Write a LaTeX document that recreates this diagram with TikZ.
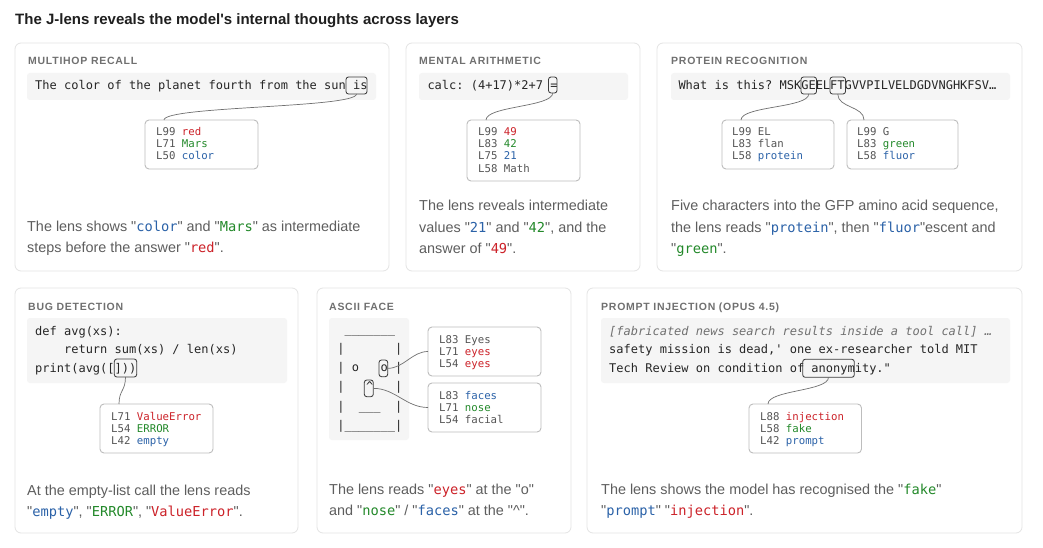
\documentclass[tikz,border=0pt]{standalone}
\usepackage{fontspec}
\usepackage{xcolor}
\newfontfamily\uifont{Liberation Sans}
\newfontfamily\ptfont[LetterSpace=7]{Liberation Sans}
\newfontfamily\codefont[WordSpace={1,0,0}]{DejaVu Sans Mono}
\frenchspacing
\definecolor{panelborder}{HTML}{E4E4E4}
\definecolor{codebgc}{HTML}{F5F5F5}
\definecolor{hlc}{HTML}{3C3C3C}
\definecolor{lboxc}{HTML}{BDBDBD}
\definecolor{connc}{HTML}{707070}
\definecolor{titlec}{HTML}{1F1F1F}
\definecolor{ptc}{HTML}{707070}
\definecolor{descc}{HTML}{5E5E5E}
\definecolor{codec}{HTML}{262626}
\definecolor{lgray}{HTML}{555555}
\definecolor{cred}{HTML}{CC2229}
\definecolor{cgreen}{HTML}{23892A}
\definecolor{cblue}{HTML}{2B62A8}
\definecolor{ccomment}{HTML}{707070}
\newcommand{\qword}[2]{"{\color{#1}\fontsize{13.7}{21}\selectfont\codefont #2}"}
\newcommand{\mkbox}[6]{\pgfmathsetmacro{\mkbw}{#5-#3}\pgfmathsetmacro{\mkbh}{#6-#4}%
  \node[#1, anchor=north west, minimum width=\mkbw pt, minimum height=\mkbh pt, inner sep=0pt, outer sep=0pt] (#2) at (#3,#4) {};}
\tikzset{
  panelbox/.style={draw=panelborder, fill=white, rounded corners=6pt, line width=0.8pt},
  codebg/.style={fill=codebgc, rounded corners=3pt},
  hlbox/.style={draw=hlc, rounded corners=2.5pt, line width=0.85pt},
  lbox/.style={draw=lboxc, fill=white, rounded corners=4pt, line width=0.9pt},
  conn/.style={draw=connc, line width=0.7pt},
  ttl/.style={anchor=base west, inner sep=0pt, text=titlec, font=\fontsize{15}{18}\selectfont\uifont\bfseries},
  ptitle/.style={anchor=base west, inner sep=0pt, text=ptc, font=\fontsize{10.5}{12}\selectfont\ptfont\bfseries},
  desc/.style={anchor=base west, inner sep=0pt, text=descc, font=\fontsize{14.4}{21}\selectfont\uifont},
  codetxt/.style={anchor=base west, inner sep=0pt, text=codec, font=\fontsize{12}{18}\selectfont\codefont},
  ltxt/.style={anchor=base west, inner sep=0pt, text=lgray, font=\fontsize{10.7}{12}\selectfont\codefont},
}
\begin{document}
\begin{tikzpicture}[x=1pt,y=-1pt]
\path[use as bounding box, fill=white] (0,0) rectangle (1043,548);

\node[ttl] (title) at (15,25) {The J-lens reveals the model's internal thoughts across layers};

% panels
\mkbox{panelbox}{p1}{15}{43}{389}{271}
\mkbox{panelbox}{p2}{406}{43}{640}{271}
\mkbox{panelbox}{p3}{657}{43}{1022}{271}
\mkbox{panelbox}{p4}{15}{288}{298}{533}
\mkbox{panelbox}{p5}{317}{288}{571}{533}
\mkbox{panelbox}{p6}{587}{288}{1022}{533}

% panel titles
\node[ptitle] (t1) at (28,65) {MULTIHOP RECALL};
\node[ptitle] (t2) at (419,65) {MENTAL ARITHMETIC};
\node[ptitle] (t3) at (671,65) {PROTEIN RECOGNITION};
\node[ptitle] (t4) at (28,310) {BUG DETECTION};
\node[ptitle] (t5) at (329,310) {ASCII FACE};
\node[ptitle] (t6) at (601,310) {PROMPT INJECTION (OPUS 4.5)};

% code backgrounds
\mkbox{codebg}{c1}{27}{73}{376}{100}
\mkbox{codebg}{c2}{419}{73}{628}{100}
\mkbox{codebg}{c3}{671}{73}{1010}{100}
\mkbox{codebg}{c4}{27}{318}{287}{383}
\mkbox{codebg}{c5}{329}{318}{409}{440}
\mkbox{codebg}{c6}{601}{318}{1010}{383}

% code text
\node[codetxt] (c1t) at (35,90) {The color of the planet fourth from the sun is};
\node[codetxt] (c2t) at (427.3,90) {calc: (4+17)*2+7 =};
\node[codetxt] (c3t) at (678.3,90) {What is this? MSKGEELFTGVVPILVELDGDVNGHKFSV…};
\node[codetxt] (c4a) at (35,335) {def avg(xs):};
\node[codetxt] (c4b) at (35,353.5) {\ \ \ \ return sum(xs) / len(xs)};
\node[codetxt] (c4c) at (35,372) {print(avg([]))};
\node[codetxt] (f1) at (337.1,333) {\ \_\_\_\_\_\_\_};
\node[codetxt] (f2) at (337.1,352.3) {|\ \ \ \ \ \ \ |};
\node[codetxt] (f3) at (337.1,371.6) {|\ o\ \ \ o\ |};
\node[codetxt] (f4) at (337.1,390.9) {|\ \ \ \textasciicircum\ \ \ |};
\node[codetxt] (f5) at (337.1,410.2) {|\ \ \_\_\_\ \ |};
\node[codetxt] (f6) at (337.1,429.5) {|\_\_\_\_\_\_\_|};
\node[codetxt, text=ccomment] (c6a) at (609,335) {\itshape [fabricated news search results inside a tool call] …};
\node[codetxt] (c6b) at (609,353.5) {safety mission is dead,' one ex-researcher told MIT};
\node[codetxt] (c6c) at (609,372) {Tech Review on condition of anonymity."};

% highlight boxes
\mkbox{hlbox}{h1}{346}{77}{367}{94}
\mkbox{hlbox}{h2}{548.5}{77}{557}{93}
\mkbox{hlbox}{h3a}{801}{77}{816.5}{94}
\mkbox{hlbox}{h3b}{830}{77}{845.5}{94}
\mkbox{hlbox}{h4}{114.3}{359}{136.7}{377}
\mkbox{hlbox}{h5a}{379}{360}{387.7}{376.7}
\mkbox{hlbox}{h5b}{364.3}{380}{373.3}{396.7}
\mkbox{hlbox}{h6}{802.7}{359.3}{854.3}{377.3}

% lens boxes
\mkbox{lbox}{b1}{145}{120}{258}{169}
\mkbox{lbox}{b2}{467}{120}{580}{181}
\mkbox{lbox}{b3a}{722}{120}{834}{169}
\mkbox{lbox}{b3b}{847}{120}{958}{169}
\mkbox{lbox}{b4}{100}{404}{213}{453}
\mkbox{lbox}{b5a}{428}{327}{541}{376}
\mkbox{lbox}{b5b}{428}{383}{541}{432}
\mkbox{lbox}{b6}{749}{404}{861.5}{453}

% connectors
\draw[conn] (h1.south) .. controls +(0,14) and +(0,-14) .. ([xshift=19pt]b1.north west);
\draw[conn] (h2.south) .. controls +(0,14) and +(0,-14) .. ([xshift=19pt]b2.north west);
\draw[conn] (h3a.south) .. controls +(0,14) and +(0,-14) .. ([xshift=19pt]b3a.north west);
\draw[conn] (h3b.south) .. controls +(0,14) and +(0,-14) .. ([xshift=17pt]b3b.north west);
\draw[conn] (h4.south) .. controls +(0,14) and +(0,-14) .. ([xshift=19pt]b4.north west);
\draw[conn] (h5a.east) .. controls +(16,0) and +(-16,0) .. (b5a.west);
\draw[conn] (h5b.east) .. controls +(22,0) and +(-22,0) .. (b5b.west);
\draw[conn] (h6.south) .. controls +(0,14) and +(0,-14) .. ([xshift=19pt]b6.north west);

% lens texts
\node[ltxt] (b1l1) at (156,136) {L99 \textcolor{cred}{red}};
\node[ltxt] (b1l2) at (156,148) {L71 \textcolor{cgreen}{Mars}};
\node[ltxt] (b1l3) at (156,160) {L50 \textcolor{cblue}{color}};

\node[ltxt] (b2l1) at (478,136) {L99 \textcolor{cred}{49}};
\node[ltxt] (b2l2) at (478,148) {L83 \textcolor{cgreen}{42}};
\node[ltxt] (b2l3) at (478,160) {L75 \textcolor{cblue}{21}};
\node[ltxt] (b2l4) at (478,172) {L58 Math};

\node[ltxt] (b3al1) at (732,136) {L99 EL};
\node[ltxt] (b3al2) at (732,148) {L83 flan};
\node[ltxt] (b3al3) at (732,160) {L58 \textcolor{cblue}{protein}};

\node[ltxt] (b3bl1) at (857,136) {L99 G};
\node[ltxt] (b3bl2) at (857,148) {L83 \textcolor{cgreen}{green}};
\node[ltxt] (b3bl3) at (857,160) {L58 \textcolor{cblue}{fluor}};

\node[ltxt] (b4l1) at (111,420) {L71 \textcolor{cred}{ValueError}};
\node[ltxt] (b4l2) at (111,432) {L54 \textcolor{cgreen}{ERROR}};
\node[ltxt] (b4l3) at (111,444) {L42 \textcolor{cblue}{empty}};

\node[ltxt] (b5al1) at (439,343) {L83 Eyes};
\node[ltxt] (b5al2) at (439,355) {L71 \textcolor{cred}{eyes}};
\node[ltxt] (b5al3) at (439,367) {L54 \textcolor{cred}{eyes}};

\node[ltxt] (b5bl1) at (439,399) {L83 \textcolor{cblue}{faces}};
\node[ltxt] (b5bl2) at (439,411) {L71 \textcolor{cgreen}{nose}};
\node[ltxt] (b5bl3) at (439,423) {L54 facial};

\node[ltxt] (b6l1) at (760,420) {L88 \textcolor{cred}{injection}};
\node[ltxt] (b6l2) at (760,432) {L58 \textcolor{cgreen}{fake}};
\node[ltxt] (b6l3) at (760,444) {L42 \textcolor{cblue}{prompt}};

% descriptions
\node[desc] (d1a) at (27,231) {The lens shows \qword{cblue}{color} and \qword{cgreen}{Mars} as intermediate};
\node[desc] (d1b) at (27,252) {steps before the answer \qword{cred}{red}.};
\node[desc] (d2a) at (419,211) {The lens reveals intermediate};
\node[desc] (d2b) at (419,232) {values \qword{cblue}{21} and \qword{cgreen}{42}, and the};
\node[desc] (d2c) at (419,253) {answer of \qword{cred}{49}.};
\node[desc] (d3a) at (671,211) {Five characters into the GFP amino acid sequence,};
\node[desc] (d3b) at (671,232) {the lens reads \qword{cblue}{protein}, then \qword{cblue}{fluor}escent and};
\node[desc] (d3c) at (671,253) {\qword{cgreen}{green}.};
\node[desc] (d4a) at (27,495) {At the empty-list call the lens reads};
\node[desc] (d4b) at (27,516) {\qword{cblue}{empty}, \qword{cgreen}{ERROR}, \qword{cred}{ValueError}.};
\node[desc] (d5a) at (329,494) {The lens reads \qword{cred}{eyes} at the "o"};
\node[desc] (d5b) at (329,515) {and \qword{cgreen}{nose} / \qword{cblue}{faces} at the "\textasciicircum".};
\node[desc] (d6a) at (601,494) {The lens shows the model has recognised the \qword{cgreen}{fake}};
\node[desc] (d6b) at (601,515) {\qword{cblue}{prompt} \qword{cred}{injection}.};
\end{tikzpicture}
\end{document}
